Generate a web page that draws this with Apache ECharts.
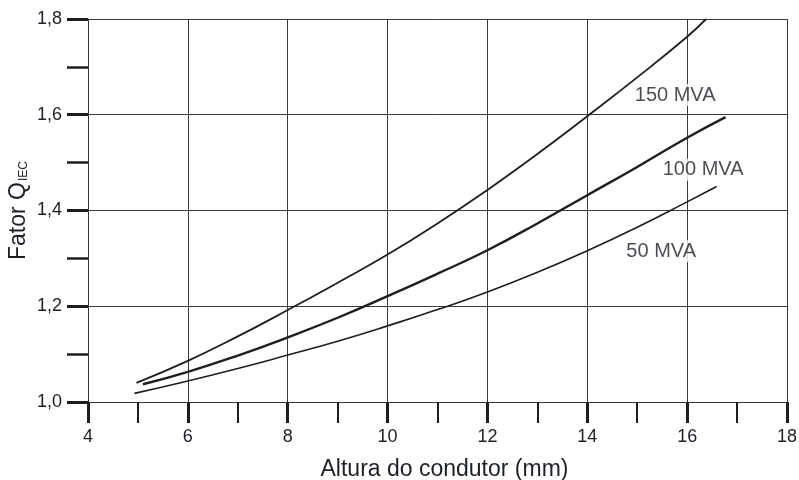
<!DOCTYPE html>
<html>
<head>
<meta charset="utf-8">
<script src="https://cdn.jsdelivr.net/npm/echarts@6/dist/echarts.min.js"></script>
<style>
  html, body { margin: 0; padding: 0; background: #fff; }
  #chart { width: 799px; height: 480px; }
</style>
</head>
<body>
<div id="chart"></div>
<script>
// Conductor height (mm) and IEC factor for three power ratings
const x150 = [4.97, 6, 7, 8, 9, 10, 11, 12, 13, 14, 15, 16, 16.38];
const q150 = [1.040, 1.086, 1.137, 1.192, 1.249, 1.308, 1.373, 1.443, 1.518, 1.597, 1.678, 1.763, 1.800];

const x100 = [5.1, 6, 7, 8, 9, 10, 11, 12, 13, 14, 15, 16, 16.77];
const q100 = [1.037, 1.063, 1.097, 1.135, 1.176, 1.221, 1.268, 1.317, 1.373, 1.432, 1.491, 1.552, 1.595];

const x50 = [4.93, 6, 7, 8, 9, 10, 11, 12, 13, 14, 15, 16, 16.59];
const q50 = [1.018, 1.044, 1.070, 1.098, 1.127, 1.159, 1.193, 1.230, 1.271, 1.316, 1.365, 1.418, 1.450];

const seriesNames = ['150 MVA', '100 MVA', '50 MVA'];
// where each rating's caption sits, in data units
const captionAt = [[15.76, 1.641], [16.32, 1.485], [15.48, 1.315]];

const xTicks = { min: 4, max: 18, step: 2 };
const yTicks = { min: 1.0, max: 1.8, step: 0.2 };

const pair = (xs, ys) => xs.map((v, i) => [v, ys[i]]);
const FONT = 'Liberation Sans, Arial, sans-serif';
const INK = '#1e1e1e';
const TEXT = '#1c2027';

const chart = echarts.init(document.getElementById('chart'));
chart.setOption({
  animation: false,
  backgroundColor: '#fff',
  grid: { left: 88, right: 12, top: 19, bottom: 78, outerBoundsMode: 'none', containLabel: false },
  xAxis: {
    type: 'value',
    min: xTicks.min, max: xTicks.max, interval: xTicks.step,
    name: 'Altura do condutor (mm)',
    nameLocation: 'middle',
    nameGap: 56,
    nameMoveOverlap: false,
    nameTextStyle: { fontFamily: FONT, fontSize: 23, color: TEXT, padding: [0, 0, 0, 14] },
    axisLine: { lineStyle: { color: '#333', width: 1 } },
    axisTick: { show: true, inside: false, length: 21, lineStyle: { color: INK, width: 3 } },
    minorTick: { show: true, splitNumber: 2, length: 21, lineStyle: { color: INK, width: 2 } },
    axisLabel: { fontFamily: FONT, fontSize: 18, color: TEXT, margin: 26 },
    splitLine: { show: true, lineStyle: { color: '#3a3a3a', width: 1 } }
  },
  yAxis: {
    type: 'value',
    min: yTicks.min, max: yTicks.max, interval: yTicks.step,
    name: '{m|Fator Q}{s|IEC}',
    nameLocation: 'middle',
    nameRotate: 90,
    nameGap: 58,
    nameMoveOverlap: false,
    nameTextStyle: {
      rich: {
        m: { fontFamily: FONT, fontSize: 23, color: TEXT },
        s: { fontFamily: FONT, fontSize: 12, color: TEXT, verticalAlign: 'bottom', padding: [8, 0, 0, 1] }
      }
    },
    axisLine: { show: true, lineStyle: { color: '#333', width: 1 } },
    axisTick: { show: true, inside: false, length: 21, lineStyle: { color: INK, width: 3 } },
    minorTick: { show: true, splitNumber: 2, length: 21, lineStyle: { color: INK, width: 2.5 } },
    axisLabel: {
      fontFamily: FONT, fontSize: 18, color: TEXT, margin: 26,
      formatter: v => v.toFixed(1).replace('.', ',')
    },
    splitLine: { show: true, lineStyle: { color: '#3a3a3a', width: 1 } }
  },
  series: [
    { name: seriesNames[0], type: 'line', smooth: true, symbol: 'none', data: pair(x150, q150),
      lineStyle: { color: INK, width: 1.8 } },
    { name: seriesNames[1], type: 'line', smooth: true, symbol: 'none', data: pair(x100, q100),
      lineStyle: { color: INK, width: 2.4 } },
    { name: seriesNames[2], type: 'line', smooth: true, symbol: 'none', data: pair(x50, q50),
      lineStyle: { color: INK, width: 1.6 } },
    {
      name: 'captions', type: 'scatter', symbolSize: 0, silent: true, z: 5,
      data: captionAt.map((p, i) => ({ value: p, caption: seriesNames[i] })),
      label: {
        show: true, position: 'inside',
        formatter: p => p.data.caption,
        fontFamily: FONT, fontSize: 20, color: TEXT,
        backgroundColor: '#fff', padding: [1, 2]
      }
    }
  ]
});
</script>
</body>
</html>
